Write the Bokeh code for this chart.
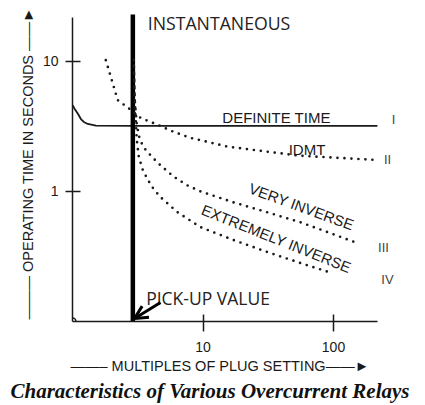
from bokeh.plotting import figure
from bokeh.models import (Range1d, FixedTicker, BasicTickFormatter, Label,
                          Arrow, OpenHead, Title)
from bokeh.embed import file_html
from bokeh.resources import INLINE

# ---------------- data ----------------
x_ticks = [10, 100]
y_ticks = [1, 10]

definite_x = [1.0, 1.04, 1.1, 1.16, 1.22, 1.31, 1.51, 3.0, 10.0, 50.0, 217.0]
definite_y = [4.6, 4.3, 3.95, 3.6, 3.42, 3.3, 3.2, 3.19, 3.19, 3.19, 3.19]

idmt_x = [1.8, 1.97, 2.22, 2.8, 3.33, 4.5, 5.95, 8.0, 15.4, 31.0, 55.5, 100.0, 200.0]
idmt_y = [10.2, 7.55, 5.04, 4.23, 3.67, 3.25, 2.87, 2.58, 2.21, 2.02, 1.88, 1.82, 1.75]

very_x = [2.95, 3.0, 3.11, 3.28, 3.58, 4.05, 4.74, 5.95, 7.62, 9.57, 17.1, 31.1, 55.5, 99.0, 159.0]
very_y = [10.2, 5.04, 3.25, 2.49, 2.13, 1.85, 1.58, 1.30, 1.11, 1.0, 0.824, 0.691, 0.58, 0.47, 0.394]

extreme_x = [2.95, 3.0, 3.05, 3.11, 3.22, 3.45, 3.77, 4.19, 4.74, 6.39, 9.57, 17.1, 31.1, 55.5, 90.8]
extreme_y = [9.32, 5.04, 3.55, 2.49, 1.85, 1.47, 1.23, 1.04, 0.90, 0.691, 0.531, 0.423, 0.342, 0.282, 0.241]

instant_x = [2.9, 2.9]
instant_y = [0.1, 22.9]

origin_x = [1.0]
origin_y = [0.1]

x_axis_span = (1.0, 219.0)
y_axis_span = (0.1, 21.7)

# ---------------- layout (page pixels; canvas sits at the page origin) ----------------
W, H = 425, 405
FRAME_LEFT = 72          # x of value 1
FRAME_BOTTOM = 322       # y of value 0.1
DEC = 130.5              # pixels per decade

xs = 1.0
xe = xs * 10 ** ((W - FRAME_LEFT) / DEC)
ys = 0.1
ye = ys * 10 ** (FRAME_BOTTOM / DEC)


def fx(px):
    return px - FRAME_LEFT


def fy(py):
    return FRAME_BOTTOM - py


INK = "#1a1a1a"

p = figure(width=W, height=H, x_axis_type="log", y_axis_type="log",
           x_range=Range1d(xs, xe), y_range=Range1d(ys, ye),
           output_backend="svg", toolbar_location=None, title=None,
           min_border_left=FRAME_LEFT, min_border_right=0,
           min_border_top=0, min_border_bottom=H - FRAME_BOTTOM)
p.grid.visible = False
p.outline_line_color = None
p.background_fill_color = "white"
p.border_fill_color = "white"

xa = p.xaxis[0]
xa.ticker = FixedTicker(ticks=x_ticks)
xa.formatter = BasicTickFormatter()
xa.bounds = x_axis_span
xa.major_tick_in = 7
xa.major_tick_out = 10
xa.minor_tick_line_color = None
xa.major_label_standoff = 10
xa.axis_line_width = 1.5
xa.axis_line_color = INK
xa.major_tick_line_width = 1.5
xa.major_tick_line_color = INK
xa.major_label_text_font = "Liberation Sans"
xa.major_label_text_font_size = "14px"
xa.major_label_text_color = INK

ya = p.yaxis[0]
ya.ticker = FixedTicker(ticks=y_ticks)
ya.formatter = BasicTickFormatter()
ya.bounds = y_axis_span
ya.major_tick_in = 8
ya.major_tick_out = 7
ya.minor_tick_line_color = None
ya.major_label_standoff = 7
ya.axis_line_width = 1.5
ya.axis_line_color = INK
ya.major_tick_line_width = 1.5
ya.major_tick_line_color = INK
ya.major_label_text_font = "Liberation Sans"
ya.major_label_text_font_size = "14px"
ya.major_label_text_color = INK
ya.major_label_orientation = "horizontal"

# axis titles and caption as side-panel titles
p.add_layout(Title(text="——— OPERATING TIME IN SECONDS ——►", align="left",
                   offset=2, standoff=8, text_font="Liberation Sans",
                   text_font_size="14.5px", text_font_style="normal",
                   text_color=INK), "left")
p.add_layout(Title(text="——– MULTIPLES OF PLUG SETTING——►", align="left",
                   offset=-2, standoff=2, text_font="Liberation Sans",
                   text_font_size="14.5px", text_font_style="normal",
                   text_color=INK), "below")
p.add_layout(Title(text="Characteristics of Various Overcurrent Relays",
                   align="left", offset=10 - FRAME_LEFT, standoff=5,
                   text_font="Liberation Serif", text_font_size="21px",
                   text_font_style="bold italic", text_color="#111"), "below")

# curves
p.line(definite_x, definite_y, line_color=INK, line_width=1.8)
p.line(instant_x, instant_y, line_color="black", line_width=4.5)
for cx, cy in ((idmt_x, idmt_y), (very_x, very_y), (extreme_x, extreme_y)):
    p.line(cx, cy, line_color=INK, line_width=2.7, line_dash="0 7",
           line_cap="round")
p.scatter(origin_x, origin_y, size=7, fill_color="white", line_color=INK,
          line_width=1.5)


def label(text, px, py, size, font="Liberation Sans", align="center",
          baseline="alphabetic", angle=0.0, color=INK, style="normal"):
    p.add_layout(Label(x=fx(px), y=fy(py), x_units="screen", y_units="screen",
                       text=text, text_font=font, text_font_size=size,
                       text_align=align, text_baseline=baseline, angle=angle,
                       text_color=color, text_font_style=style))


label("INSTANTANEOUS", 218.5, 23, "17.7px", font="Open Sans", color="#222")
label("DEFINITE TIME", 276, 118, "15px")
label("IDMT", 306.5, 150, "15px")
label("VERY INVERSE", 301, 207, "15px", baseline="middle", angle=-0.35)
label("EXTREMELY INVERSE", 276, 239, "15px", baseline="middle", angle=-0.38)
label("PICK-UP VALUE", 207.5, 298, "17.5px", font="Open Sans", color="#222")
label("I", 393, 120, "13px", baseline="middle", color="#444")
label("II", 387, 160, "13px", baseline="middle", color="#444")
label("III", 383, 248, "13px", baseline="middle", color="#444")
label("IV", 387, 280, "13px", baseline="middle", color="#444")

# pick-up arrow
p.add_layout(Arrow(x_start=fx(160), y_start=fy(303), x_end=fx(134), y_end=fy(319),
                   start_units="screen", end_units="screen",
                   end=OpenHead(size=13, line_width=3, line_color="black"),
                   line_color="black", line_width=3))

open("out.html", "w").write(file_html(p, INLINE))
